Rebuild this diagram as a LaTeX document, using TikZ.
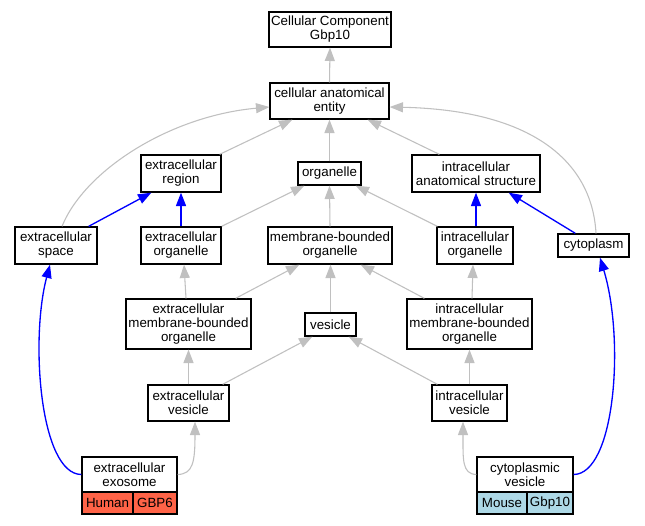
\documentclass[tikz,border=0pt]{standalone}
\usepackage{fontspec}
\setmainfont{Liberation Sans}
\usetikzlibrary{arrows.meta,calc}
\definecolor{edgegray}{HTML}{C0C0C0}
\definecolor{humanfill}{HTML}{FF6347}
\definecolor{mousefill}{HTML}{ADD8E6}
\begin{document}
\begin{tikzpicture}[x=0.75pt,y=-0.75pt,
  term/.style={draw=black,line width=1pt,fill=white,inner sep=0pt,align=center,
    font=\fontsize{10}{10.5}\selectfont},
  cell/.style={term},
  gedge/.style={draw=edgegray,line width=0.8pt,-{Triangle[length=10pt,width=7.5pt]}},
  bedge/.style={draw=blue,line width=1pt,-{Triangle[length=10pt,width=7.5pt]}}]
\useasboundingbox (0,0) rectangle (645,525);
\fill[white] (0,0) rectangle (645,525);
% nodes
\node[term,minimum width=91.5pt,minimum height=26.25pt] (cc) at (330,29.5) {Cellular Component\\Gbp10};
\node[term,minimum width=89.25pt,minimum height=27pt] (cae) at (329.5,101) {cellular anatomical\\entity};
\node[term,minimum width=60pt,minimum height=27.75pt] (er) at (181,173.5) {extracellular\\region};
\node[term,minimum width=47.25pt,minimum height=17.25pt] (org) at (329.5,173.5) {organelle};
\node[term,minimum width=96pt,minimum height=27.75pt] (ias) at (476,173.5) {intracellular\\anatomical structure};
\node[term,minimum width=61.5pt,minimum height=27.75pt] (es) at (56,245.5) {extracellular\\space};
\node[term,minimum width=60pt,minimum height=27.75pt] (eo) at (181,245.5) {extracellular\\organelle};
\node[term,minimum width=93pt,minimum height=27.75pt] (mbo) at (330,245.5) {membrane-bounded\\organelle};
\node[term,minimum width=57pt,minimum height=27.75pt] (io) at (475,245.5) {intracellular\\organelle};
\node[term,minimum width=53.25pt,minimum height=17.25pt] (cyto) at (593.5,245.5) {cytoplasm};
\node[term,minimum width=93.75pt,minimum height=37.5pt] (embo) at (188.5,324) {extracellular\\membrane-bounded\\organelle};
\node[term,minimum width=38.25pt,minimum height=17.25pt] (ves) at (330.5,324.5) {vesicle};
\node[term,minimum width=93.75pt,minimum height=37.5pt] (imbo) at (469.5,324) {intracellular\\membrane-bounded\\organelle};
\node[term,minimum width=60.75pt,minimum height=27pt] (ev) at (188.5,403) {extracellular\\vesicle};
\node[term,minimum width=56.25pt,minimum height=27pt] (iv) at (469.5,403) {intracellular\\vesicle};
\node[term,minimum width=71.25pt,minimum height=26.25pt] (ee) at (129.5,474.5) {extracellular\\exosome};
\node[cell,fill=humanfill,minimum width=38.25pt,minimum height=16.5pt] (eeh) at (107.5,503) {Human};
\node[cell,fill=humanfill,minimum width=33pt,minimum height=16.5pt] (eeg) at (155,503) {GBP6};
\node[term,minimum width=72pt,minimum height=26.25pt] (cv) at (525,474.5) {cytoplasmic\\vesicle};
\node[cell,fill=mousefill,minimum width=37.5pt,minimum height=16.5pt] (cvm) at (502,503) {Mouse};
\node[cell,fill=mousefill,minimum width=34.5pt,minimum height=16.5pt] (cvg) at (550,503) {Gbp10};
% gray edges
\draw[gedge] (cae.north) -- (cc.south);
\draw[gedge] ($(er.north east)+(-2,0)$) -- ($(cae.south west)+(23,0)$);
\draw[gedge] (org.north) -- (cae.south);
\draw[gedge] ($(ias.north west)+(28,0)$) -- ($(cae.south east)+(-22,0)$);
\draw[gedge] ($(es.north)+(6,0)$) .. controls (85,170) and (170,116) .. ($(cae.west)+(0,6)$);
\draw[gedge] ($(cyto.north)+(2.5,0)$) .. controls (592,160) and (530,110) .. ($(cae.east)+(0,6)$);
\draw[gedge] (eo.north east) -- ($(org.south west)+(7,0)$);
\draw[gedge] (mbo.north) -- (org.south);
\draw[gedge] ($(io.north west)+(1,0)$) -- ($(org.south east)+(-6,0)$);
\draw[gedge] ($(embo.north)+(-2.5,0)$) -- ($(eo.south)+(3,0)$);
\draw[gedge] ($(embo.north east)+(-16,0)$) -- ($(mbo.south west)+(32,0)$);
\draw[gedge] (ves.north) -- (ves.north |- mbo.south);
\draw[gedge] ($(imbo.north west)+(18,0)$) -- ($(mbo.south east)+(-32,0)$);
\draw[gedge] ($(imbo.north)+(2.5,0)$) -- ($(io.south)+(-2,0)$);
\draw[gedge] (ev.north) -- (embo.south);
\draw[gedge] ($(ev.north east)+(-7,0)$) -- ($(ves.south west)+(8,0)$);
\draw[gedge] ($(iv.north west)+(6,0)$) -- ($(ves.south east)+(-8,0)$);
\draw[gedge] (iv.north) -- (imbo.south);
\draw[gedge] (ee.east) .. controls (193,474) and (195,462) .. ($(ev.south)+(6.5,0)$);
\draw[gedge] (cv.west) .. controls (462,474) and (463,460) .. ($(iv.south)+(-6.5,0)$);
% blue edges
\draw[bedge] ($(es.north east)+(-9,0)$) -- ($(er.south west)+(11,0)$);
\draw[bedge] (eo.north) -- (er.south);
\draw[bedge] (io.north -| ias.south) -- (ias.south);
\draw[bedge] ($(cyto.north west)+(18,0)$) -- ($(ias.south east)+(-32,0)$);
\draw[bedge] (ee.west) .. controls (40,474) and (30,340) .. ($(es.south)+(-6,0)$);
\draw[bedge] (cv.east) .. controls (615,474) and (625,340) .. ($(cyto.south)+(6.5,0)$);
\end{tikzpicture}
\end{document}
